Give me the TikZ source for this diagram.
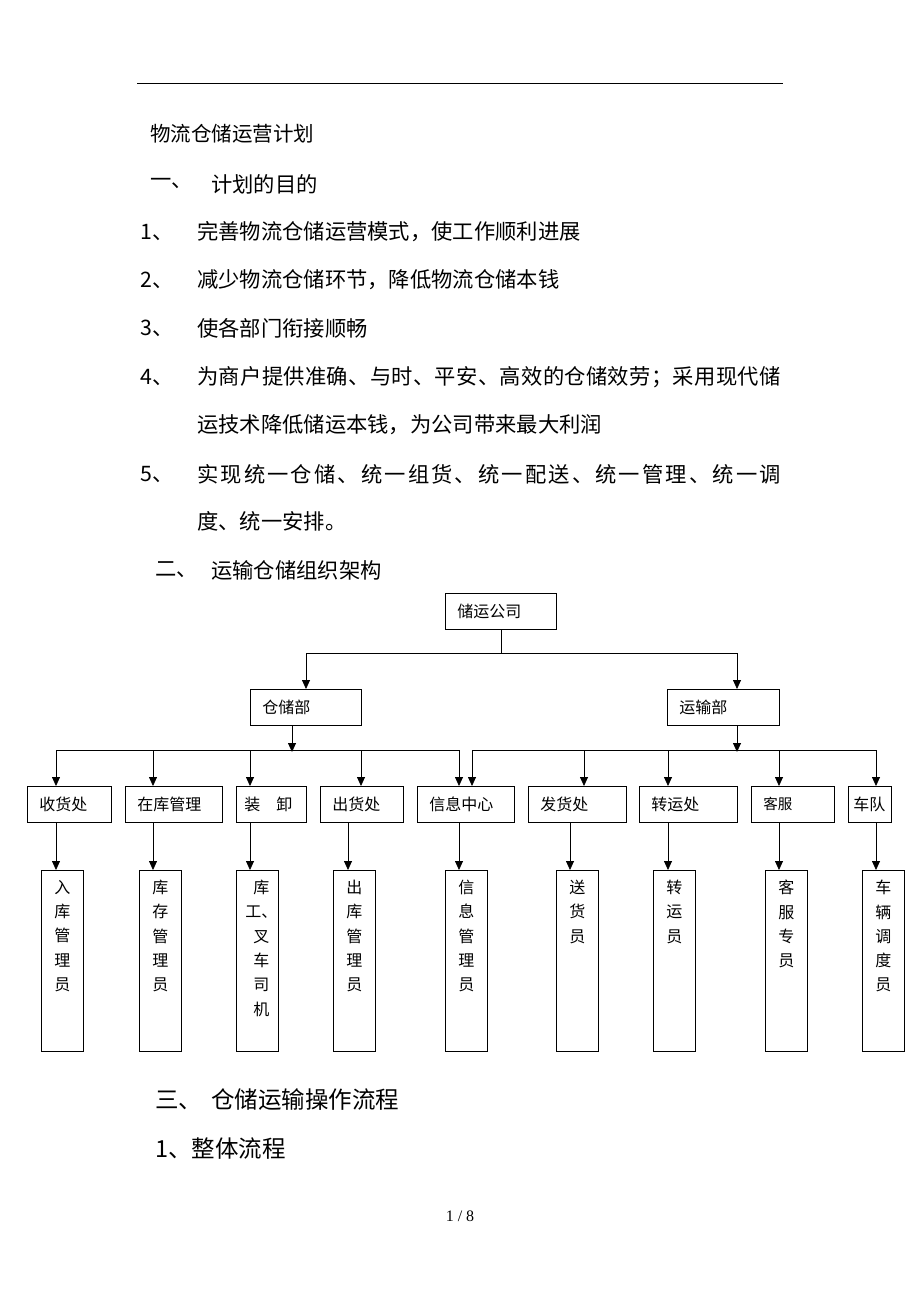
\documentclass[tikz,border=0pt]{standalone}
\usepackage{fontspec}
\setmainfont{Liberation Serif}
\newfontfamily\cjk{Noto Sans CJK SC}
\usetikzlibrary{arrows.meta}
\begin{document}
\begin{tikzpicture}[x=1pt,y=-1pt,
  bodytext/.style={anchor=west,inner sep=0,font=\cjk\fontsize{21.3}{21}\selectfont},
  headtext/.style={anchor=west,inner sep=0,font=\cjk\fontsize{23.5}{23}\selectfont},
  boxb/.style={draw,line width=0.8pt,inner ysep=0,inner xsep=12pt,minimum height=36pt,align=left,font=\cjk\fontsize{16}{16}\selectfont},
  boxc/.style={draw,line width=0.8pt,inner sep=0,minimum width=42pt,minimum height=181pt},
  vtext/.style={anchor=north,inner sep=0,align=center,font=\cjk\fontsize{16}{24.3}\selectfont},
  conn/.style={line width=0.8pt},
  arr/.style={line width=0.8pt,-{Triangle[length=9pt,width=8pt]}}]
\useasboundingbox (0,0) rectangle (920,1302);
\fill[white] (0,0) rectangle (920,1302);
\draw[line width=0.6pt] (137,83) -- (783,83);
\node[bodytext,font=\cjk\fontsize{20.5}{20}\selectfont] (t0) at (150,134) {物流仓储运营计划};
\node[bodytext] (h1a) at (150,184) {一、};
\node[bodytext] (h1b) at (211,184) {计划的目的};
\node[bodytext] (n1) at (140,232) {1、};
\node[bodytext] (l1) at (197,232) {完善物流仓储运营模式，使工作顺利进展};
\node[bodytext] (n2) at (140,280) {2、};
\node[bodytext] (l2) at (197,280) {减少物流仓储环节，降低物流仓储本钱};
\node[bodytext] (n3) at (140,328) {3、};
\node[bodytext] (l3) at (197,328) {使各部门衔接顺畅};
\node[bodytext] (n4) at (140,377) {4、};
\node[bodytext,font=\cjk\fontsize{21.3}{21}\addfontfeature{LetterSpace=1.5}\selectfont] (l4) at (197,377) {为商户提供准确、与时、平安、高效的仓储效劳；采用现代储};
\node[bodytext] (l4b) at (197,425) {运技术降低储运本钱，为公司带来最大利润};
\node[bodytext] (n5) at (140,474) {5、};
\node[bodytext,font=\cjk\fontsize{21.3}{21}\addfontfeature{LetterSpace=10}\selectfont] (l5) at (197,474) {实现统一仓储、统一组货、统一配送、统一管理、统一调};
\node[bodytext] (l5b) at (197,521) {度、统一安排。};
\node[bodytext] (h2a) at (155,570) {二、};
\node[bodytext] (h2b) at (211,570) {运输仓储组织架构};
% chart
\node[boxb,anchor=north west,text width=87pt] (top) at (445,593) {储运公司};
\node[boxb,anchor=north west,text width=87pt] (cang) at (250,689) {仓储部};
\node[boxb,anchor=north west,text width=88pt] (yun) at (667,689) {运输部};
\coordinate (j0) at (501,653);
\draw[conn] (top.south -| j0) -- (j0);
\draw[arr] (j0) -| (306,689);
\draw[arr] (j0) -| (737,689);
% level 2
\node[boxb,anchor=north west,text width=60pt] (s1) at (27,786) {收货处};
\node[boxb,anchor=north west,text width=73pt] (s2) at (125,786) {在库管理};
\node[boxb,anchor=north west,text width=54pt,inner xsep=8pt] (s3) at (236,786) {装\hspace{1em}卸};
\node[boxb,anchor=north west,text width=59pt] (s4) at (320,786) {出货处};
\node[boxb,anchor=north west,text width=73pt] (s5) at (417,786) {信息中心};
\node[boxb,anchor=north west,text width=74pt] (s6) at (528,786) {发货处};
\node[boxb,anchor=north west,text width=74pt] (s7) at (639,786) {转运处};
\node[boxb,anchor=north west,text width=59pt,font=\cjk\fontsize{14.5}{14}\selectfont] (s8) at (751,786) {客服};
\node[boxb,anchor=north west,text width=33pt,inner xsep=5pt] (s9) at (848,786) {车队};
% buses
\draw[conn] (56,750) -- (459,750);
\draw[conn] (472,750) -- (876,750);
\draw[arr] (cang.south -| 292,0) -- (292,752);
\draw[arr] (yun.south -| 737,0) -- (737,752);
\foreach \x/\n in {56/s1,153/s2,250/s3,361/s4,459/s5,472/s5,584/s6,668/s7,779/s8,876/s9}{
  \coordinate (tap) at (\x,750);
  \draw[arr] (tap) -- (tap |- \n.north);
}
% level 3
\node[boxc,anchor=north west] (p1) at (41,870) {};
\node[boxc,anchor=north west] (p2) at (139,870) {};
\node[boxc,anchor=north west] (p3) at (236,870) {};
\node[boxc,anchor=north west] (p4) at (333,870) {};
\node[boxc,anchor=north west] (p5) at (445,870) {};
\node[boxc,anchor=north west] (p6) at (556,870) {};
\node[boxc,anchor=north west] (p7) at (653,870) {};
\node[boxc,anchor=north west] (p8) at (765,870) {};
\node[boxc,anchor=north west] (p9) at (862,870) {};
\node[vtext] (q1) at ([yshift=-10]p1.north) {入\\库\\管\\理\\员};
\node[vtext] (q2) at ([yshift=-10]p2.north) {库\\存\\管\\理\\员};
\node[vtext] (q3) at ([yshift=-10,xshift=4]p3.north) {库\\工、\\叉\\车\\司\\机};
\node[vtext] (q4) at ([yshift=-10]p4.north) {出\\库\\管\\理\\员};
\node[vtext] (q5) at ([yshift=-10]p5.north) {信\\息\\管\\理\\员};
\node[vtext] (q6) at ([yshift=-10]p6.north) {送\\货\\员};
\node[vtext] (q7) at ([yshift=-10]p7.north) {转\\运\\员};
\node[vtext] (q8) at ([yshift=-10]p8.north) {客\\服\\专\\员};
\node[vtext] (q9) at ([yshift=-10]p9.north) {车\\辆\\调\\度\\员};
\foreach \x/\a/\b in {56/s1/p1,153/s2/p2,250/s3/p3,348/s4/p4,459/s5/p5,570/s6/p6,668/s7/p7,779/s8/p8,876/s9/p9}{
  \coordinate (dn) at (\x,822);
  \draw[arr] (dn |- \a.south) -- (dn |- \b.north);
}
\node[headtext] (h3a) at (155,1100) {三、};
\node[headtext] (h3b) at (211,1100) {仓储运输操作流程};
\node[headtext] (h4) at (155,1149) {1、整体流程};
\node[inner sep=0,font=\fontsize{16}{16}\selectfont] (pg) at (460,1216) {1 / 8};
\end{tikzpicture}
\end{document}
